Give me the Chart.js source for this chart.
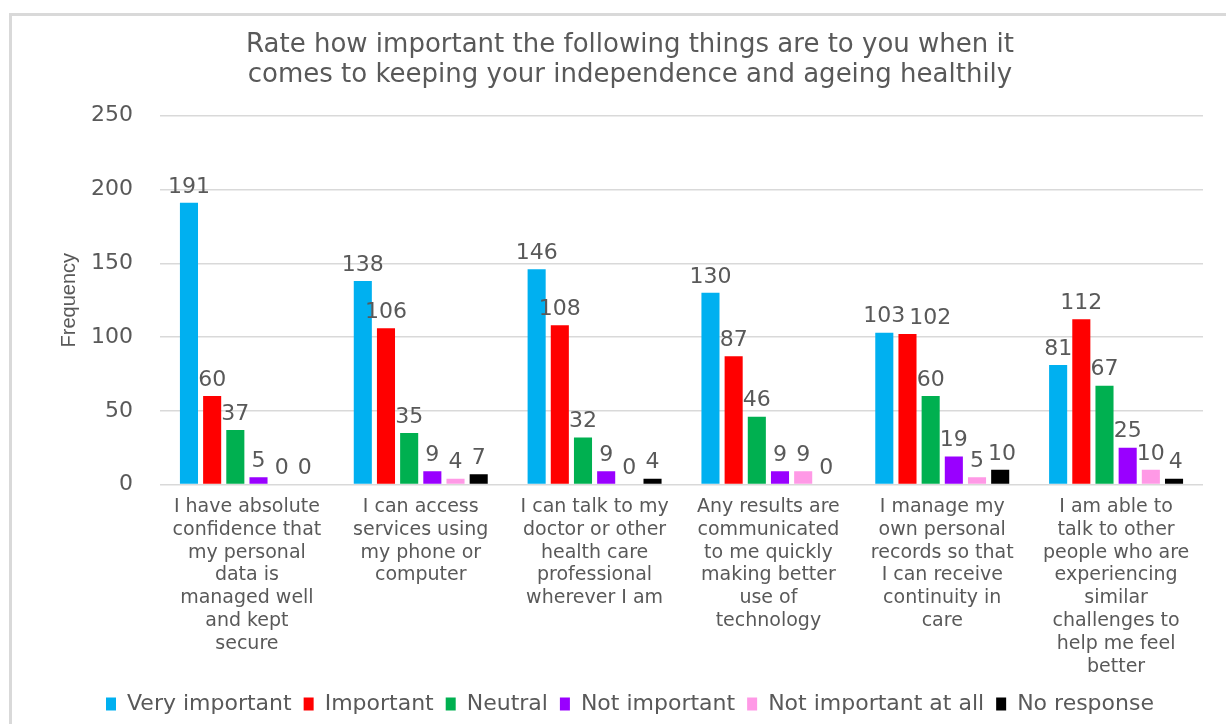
<!DOCTYPE html>
<html>
<head>
<meta charset="utf-8">
<script src="https://cdn.jsdelivr.net/npm/chart.js@4/dist/chart.umd.min.js"></script>
<style>
  body { margin: 0; background: #fff; }
  #wrap { position: relative; width: 1226px; height: 724px; overflow: hidden; }
  #frame { position: absolute; left: 9px; top: 13px; width: 1300px; height: 800px;
           border-left: 3px solid #d9d9d9; border-top: 3px solid #d9d9d9; pointer-events: none; }
  canvas { position: absolute; left: 0; top: 0; }
</style>
</head>
<body>
<div id="wrap">
  <canvas id="impactChart" width="1226" height="724"></canvas>
  <div id="frame"></div>
</div>
<script>
// kategori (label sumbu X, dipecah per baris)
const categories = [
    ['I have absolute', 'confidence that', 'my personal', 'data is', 'managed well', 'and kept', 'secure'],
    ['I can access', 'services using', 'my phone or', 'computer'],
    ['I can talk to my', 'doctor or other', 'health care', 'professional', 'wherever I am'],
    ['Any results are', 'communicated', 'to me quickly', 'making better', 'use of', 'technology'],
    ['I manage my', 'own personal', 'records so that', 'I can receive', 'continuity in', 'care'],
    ['I am able to', 'talk to other', 'people who are', 'experiencing', 'similar', 'challenges to', 'help me feel', 'better']
];

const veryImportant = [191, 138, 146, 130, 103, 81];
const important = [60, 106, 108, 87, 102, 112];
const neutral = [37, 35, 32, 46, 60, 67];
const notImportant = [5, 9, 9, 9, 19, 25];
const notImportantAtAll = [0, 4, 0, 9, 5, 10];
const noResponse = [0, 7, 4, 0, 10, 4];

const yTicks = [0, 50, 100, 150, 200, 250];

const textColor = '#595959';

// plugin kecil untuk label nilai di atas bar (geser ke kanan kalau bertabrakan)
const valueLabels = {
    id: 'valueLabels',
    afterDatasetsDraw(chart) {
        const ctx = chart.ctx;
        ctx.save();
        ctx.font = '22px "DejaVu Sans"';
        ctx.fillStyle = textColor;
        ctx.textAlign = 'center';
        ctx.textBaseline = 'bottom';
        const h = 18;
        chart.data.labels.forEach((_, j) => {
            const placed = [];
            chart.data.datasets.forEach((ds, i) => {
                const bar = chart.getDatasetMeta(i).data[j];
                const txt = String(ds.data[j]);
                const w = ctx.measureText(txt).width;
                let x = bar.x;
                const bottom = bar.y - 5;
                placed.forEach(p => {
                    const vOverlap = bottom > p.bottom - h && bottom - h < p.bottom;
                    if (vOverlap && x - w / 2 < p.right + 4) x = p.right + 4 + w / 2;
                });
                placed.push({ right: x + w / 2, bottom });
                ctx.fillText(txt, x, bottom);
            });
        });
        ctx.restore();
    }
};

const ctxyz = document.getElementById('impactChart').getContext('2d');
const impactChart = new Chart(ctxyz, {
    type: 'bar',
    data: {
        labels: categories,
        datasets: [
            { label: 'Very important', data: veryImportant, backgroundColor: '#00B0F0' },
            { label: 'Important', data: important, backgroundColor: '#FF0000' },
            { label: 'Neutral', data: neutral, backgroundColor: '#00B050' },
            { label: 'Not important', data: notImportant, backgroundColor: '#9900FF' },
            { label: 'Not important at all', data: notImportantAtAll, backgroundColor: '#FF99E6' },
            { label: 'No response', data: noResponse, backgroundColor: '#000000' }
        ]
    },
    options: {
        responsive: false,
        animation: false,
        layout: { padding: { left: 57, right: 23, top: 0, bottom: -1 } },
        datasets: { bar: { categoryPercentage: 0.8, barPercentage: 0.78 } },
        plugins: {
            title: {
                display: true,
                text: ['Rate how important the following things are to you when it',
                       'comes to keeping your independence and ageing healthily'],
                color: textColor,
                font: { family: 'DejaVu Sans', size: 26, weight: 'normal', lineHeight: 1.13 },
                padding: { top: 31, bottom: 26 }
            },
            legend: {
                position: 'bottom',
                labels: {
                    color: textColor,
                    font: { family: 'DejaVu Sans', size: 22 },
                    boxWidth: 10,
                    boxHeight: 13,
                    padding: 12
                }
            },
            tooltip: { enabled: false }
        },
        scales: {
            x: {
                grid: { display: false },
                border: { display: false },
                ticks: {
                    color: textColor,
                    font: { family: 'DejaVu Sans', size: 19, lineHeight: 1.2 },
                    maxRotation: 0,
                    autoSkip: false,
                    padding: 3
                }
            },
            y: {
                min: 0,
                max: 250,
                afterBuildTicks: axis => { axis.ticks = yTicks.map(v => ({ value: v })); },
                afterFit: axis => { axis.width = 103; },
                grid: { color: '#d9d9d9', lineWidth: 1.5, drawTicks: false },
                border: { display: false },
                ticks: {
                    color: textColor,
                    font: { family: 'DejaVu Sans', size: 22 },
                    padding: 27
                },
                title: {
                    display: true,
                    text: 'Frequency',
                    color: textColor,
                    font: { family: 'Liberation Sans', size: 20 },
                    padding: { top: 0, bottom: 0 }
                }
            }
        }
    },
    plugins: [valueLabels]
});
</script>
</body>
</html>
